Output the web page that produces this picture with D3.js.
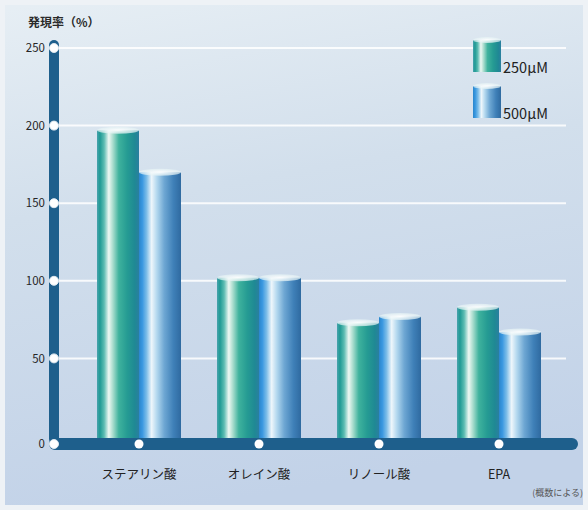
<!DOCTYPE html>
<html>
<head>
<meta charset="utf-8">
<script src="https://cdn.jsdelivr.net/npm/d3@7"></script>
<style>
  html, body { margin: 0; padding: 0; background: #ffffff; }
  svg { display: block; font-family: "Noto Sans CJK JP", "Noto Sans", sans-serif; }
</style>
</head>
<body>
<svg id="chart" width="588" height="510"></svg>
<script>
// Fatty acids tested
const categories = ["ステアリン酸", "オレイン酸", "リノール酸", "EPA"];
// Concentrations (series)
const series = ["250μM", "500μM"];
// Expression rate (%) per fatty acid
const values250 = [197, 102, 73, 83];
const values500 = [170, 102, 77, 67];
// Y-axis ticks
const yTicks = [0, 50, 100, 150, 200, 250];

const svg = d3.select("#chart");
const W = 588, H = 510;

const defs = svg.append("defs");

// background wash
const bg = defs.append("linearGradient").attr("id", "bg")
  .attr("x1", 0.1).attr("y1", 0).attr("x2", 0.3).attr("y2", 1);
bg.append("stop").attr("offset", "0%").attr("stop-color", "#e6eef4");
bg.append("stop").attr("offset", "40%").attr("stop-color", "#d2dfec");
bg.append("stop").attr("offset", "100%").attr("stop-color", "#c2d2e8");

// cylinder shading, left to right
const cylStops = {
  "250μM": [["0%", "#4aa2ad"], ["7%", "#1e9a94"], ["17%", "#5cbcb2"], ["28%", "#eef8f3"], ["38%", "#a8dccd"], ["52%", "#3fb29d"], ["72%", "#259b93"], ["90%", "#1f8994"], ["100%", "#2a7fa0"]],
  "500μM": [["0%", "#2a86cc"], ["8%", "#3a98e0"], ["18%", "#7cbde8"], ["30%", "#eef6fb"], ["42%", "#b5d9ef"], ["60%", "#6ea7d3"], ["82%", "#3f80b8"], ["100%", "#2f6aa0"]]
};
const gradId = { "250μM": "g250", "500μM": "g500" };
series.forEach(s => {
  const g = defs.append("linearGradient").attr("id", gradId[s])
    .attr("x1", 0).attr("y1", 0).attr("x2", 1).attr("y2", 0);
  cylStops[s].forEach(([o, c]) => g.append("stop").attr("offset", o).attr("stop-color", c));
});
const capGrad = defs.append("radialGradient").attr("id", "cap");
capGrad.append("stop").attr("offset", "0%").attr("stop-color", "#ffffff").attr("stop-opacity", 0.95);
capGrad.append("stop").attr("offset", "100%").attr("stop-color", "#e4f2f4").attr("stop-opacity", 0.7);

svg.append("rect").attr("width", W).attr("height", H).attr("fill", "url(#bg)");
// pale frame around the panel
svg.append("rect").attr("x", 0).attr("y", 0).attr("width", W).attr("height", H)
  .attr("fill", "none").attr("stroke", "#eef2f6").attr("stroke-width", 10);

// scales
const y = d3.scaleLinear().domain([0, 250]).range([436, 48]);
const x0 = d3.scaleBand().domain(categories).range([79, 559]).paddingInner(0.3).paddingOuter(0.15);
const x1 = d3.scaleBand().domain(series).range([0, x0.bandwidth()]).padding(0);

const axisX = 54;
const baseY = 444;

// horizontal gridlines
svg.append("g").selectAll("line").data(yTicks.filter(d => d > 0)).join("line")
  .attr("x1", axisX).attr("x2", 566)
  .attr("y1", d => y(d)).attr("y2", d => y(d))
  .attr("stroke", "#ffffff").attr("stroke-opacity", 0.85).attr("stroke-width", 2);

// bars as cylinders
const rows = categories.map((c, i) => ({ cat: c, vals: [values250[i], values500[i]] }));
const groups = svg.append("g").selectAll("g").data(rows).join("g")
  .attr("transform", d => `translate(${x0(d.cat)},0)`);
const bars = groups.selectAll("g").data(d => series.map((s, j) => ({ s, v: d.vals[j] }))).join("g");
bars.append("rect")
  .attr("x", d => x1(d.s)).attr("width", x1.bandwidth())
  .attr("y", d => y(d.v)).attr("height", d => 440 - y(d.v))
  .attr("fill", d => `url(#${gradId[d.s]})`);
bars.append("ellipse")
  .attr("cx", d => x1(d.s) + x1.bandwidth() / 2).attr("cy", d => y(d.v))
  .attr("rx", x1.bandwidth() / 2).attr("ry", 3.5)
  .attr("fill", "url(#cap)");

// y axis bar
svg.append("rect").attr("x", axisX - 5).attr("y", 40).attr("width", 10).attr("height", baseY - 40)
  .attr("rx", 5).attr("fill", "#1e5f8c");
// x axis bar
svg.append("rect").attr("x", axisX - 5).attr("y", baseY - 6).attr("width", 578 - axisX + 5).attr("height", 12)
  .attr("rx", 6).attr("fill", "#1e5f8c");

// y tick dots and labels
const yPos = d => d === 0 ? baseY : y(d);
svg.append("g").selectAll("circle").data(yTicks).join("circle")
  .attr("cx", axisX).attr("cy", yPos).attr("r", 4.5)
  .attr("fill", "#ffffff").attr("stroke", "#dfe8ef").attr("stroke-width", 1);
svg.append("g").selectAll("text").data(yTicks).join("text")
  .attr("x", axisX - 9).attr("y", yPos).attr("dy", "0.36em")
  .attr("text-anchor", "end").attr("font-size", 11.5).attr("fill", "#262626")
  .text(d => d);

// x tick dots and category labels
svg.append("g").selectAll("circle").data(categories).join("circle")
  .attr("cx", d => x0(d) + x0.bandwidth() / 2).attr("cy", baseY).attr("r", 4.5)
  .attr("fill", "#ffffff");
svg.append("g").selectAll("text").data(categories).join("text")
  .attr("x", d => x0(d) + x0.bandwidth() / 2).attr("y", 479)
  .attr("text-anchor", "middle").attr("font-size", 12.5).attr("fill", "#222")
  .text(d => d);

// axis title
svg.append("text").attr("x", 28).attr("y", 27).attr("font-size", 12).attr("font-weight", "bold")
  .attr("fill", "#2a2a2a").text("発現率（%）");

// legend
const legend = svg.append("g").selectAll("g").data(series).join("g")
  .attr("transform", (d, i) => `translate(473,${40 + i * 46})`);
legend.append("rect").attr("width", 28).attr("height", 32)
  .attr("fill", d => `url(#${gradId[d]})`);
legend.append("ellipse").attr("cx", 14).attr("cy", 0).attr("rx", 14).attr("ry", 3)
  .attr("fill", "url(#cap)");
legend.append("text").attr("x", 30).attr("y", 33).attr("font-size", 14.5).attr("fill", "#222")
  .text(d => d);

// source note
svg.append("text").attr("x", 583).attr("y", 496).attr("text-anchor", "end")
  .attr("font-size", 9).attr("fill", "#555").text("(概数による)");
</script>
</body>
</html>
